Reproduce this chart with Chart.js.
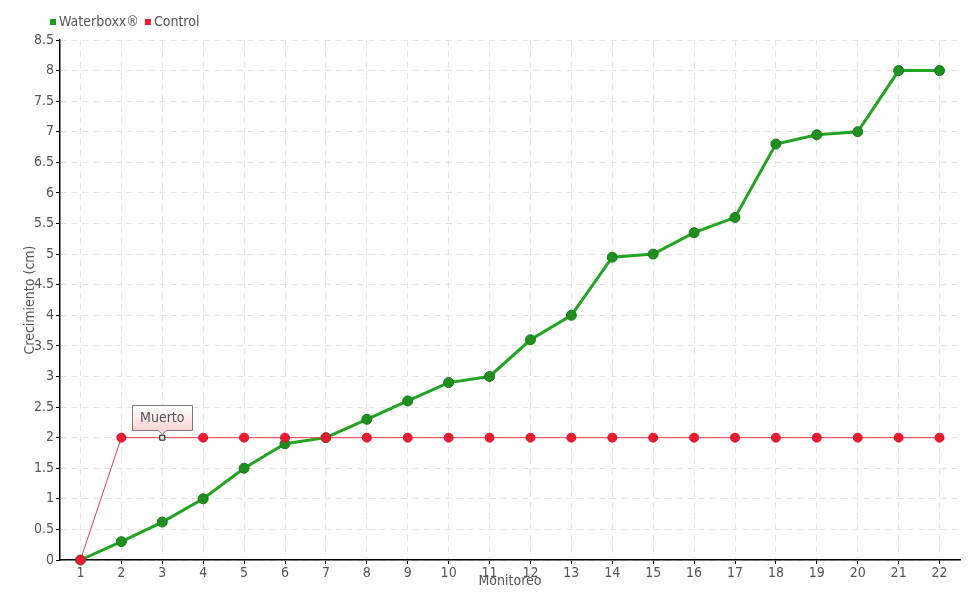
<!DOCTYPE html>
<html>
<head>
<meta charset="utf-8">
<script src="https://cdn.jsdelivr.net/npm/chart.js@4.4.0/dist/chart.umd.min.js"></script>
<style>
  html, body { margin: 0; padding: 0; background: #fff; }
  #wrap { width: 980px; height: 600px; position: relative; }
</style>
</head>
<body>
<div id="wrap"><canvas id="c" width="980" height="600"></canvas></div>
<script>
const categories = ['1','2','3','4','5','6','7','8','9','10','11','12','13','14','15','16','17','18','19','20','21','22'];
const waterboxx = [0, 0.3, 0.62, 1.0, 1.5, 1.9, 2.0, 2.3, 2.6, 2.9, 3.0, 3.6, 4.0, 4.95, 5.0, 5.35, 5.6, 6.8, 6.95, 7.0, 8.0, 8.0];
const control = [0, 2, 2, 2, 2, 2, 2, 2, 2, 2, 2, 2, 2, 2, 2, 2, 2, 2, 2, 2, 2, 2];
const seriesNames = ['Waterboxx\u00AE', 'Control'];
const annotationIndex = 2;
const annotationText = 'Muerto';
const yTitle = 'Crecimiento (cm)';
const xTitle = 'Monitoreo';

const FONT = "'DejaVu Sans Condensed', 'Liberation Sans Narrow', sans-serif";
const TXT = '#555555';
const GREEN = '#22a322';
const RED = '#ee1b30';

const ctlStyles = control.map((v, i) => i === annotationIndex ? 'rect' : 'circle');
const ctlBg = control.map((v, i) => i === annotationIndex ? '#ffffff' : RED);
const ctlBorder = control.map((v, i) => i === annotationIndex ? '#000000' : '#e0102a');
const ctlRadius = control.map((v, i) => i === annotationIndex ? 3.5 : 4.5);

const legendPlugin = {
  id: 'customLegend',
  afterDraw(chart) {
    const ctx = chart.ctx;
    ctx.save();
    ctx.font = '14px ' + FONT;
    ctx.textBaseline = 'middle';
    let x = 50;
    const y = 22;
    chart.data.datasets.forEach(ds => {
      ctx.fillStyle = ds.legendColor;
      ctx.fillRect(x, y - 3, 6, 6);
      ctx.fillStyle = TXT;
      ctx.fillText(ds.label, x + 9, y);
      x += 9 + ctx.measureText(ds.label).width + 6;
    });
    ctx.restore();
  }
};

const annotationPlugin = {
  id: 'muerto',
  afterDatasetsDraw(chart) {
    const ctx = chart.ctx;
    const xs = chart.scales.x, ys = chart.scales.y;
    const px = xs.getPixelForValue(annotationIndex);
    const py = ys.getPixelForValue(control[annotationIndex]);
    const w = 60, h = 25;
    const left = Math.round(px - w / 2) + 0.5;
    const bottom = Math.round(py - 8) + 0.5;
    const top = bottom - h;
    ctx.save();
    const g = ctx.createLinearGradient(0, top, 0, bottom);
    g.addColorStop(0, '#ffffff');
    g.addColorStop(1, '#f9d3d3');
    ctx.beginPath();
    ctx.moveTo(left, top);
    ctx.lineTo(left + w, top);
    ctx.lineTo(left + w, bottom);
    ctx.lineTo(px + 4, bottom);
    ctx.lineTo(px, bottom + 4);
    ctx.lineTo(px - 4, bottom);
    ctx.lineTo(left, bottom);
    ctx.closePath();
    ctx.fillStyle = g;
    ctx.fill();
    ctx.strokeStyle = '#7a7a7a';
    ctx.lineWidth = 1;
    ctx.stroke();
    ctx.fillStyle = TXT;
    ctx.font = '14px ' + FONT;
    ctx.textAlign = 'center';
    ctx.textBaseline = 'middle';
    ctx.fillText(annotationText, px, top + h / 2);
    ctx.restore();
  }
};

new Chart(document.getElementById('c'), {
  type: 'line',
  data: {
    labels: categories,
    datasets: [
      {
        label: seriesNames[0],
        data: waterboxx,
        legendColor: '#1c9c1c',
        borderColor: GREEN,
        borderWidth: 3,
        pointRadius: 5,
        pointHoverRadius: 5,
        pointBackgroundColor: '#1f8f1f',
        pointBorderColor: '#187818',
        pointBorderWidth: 1,
        tension: 0,
        order: 2,
        clip: false
      },
      {
        label: seriesNames[1],
        data: control,
        legendColor: RED,
        borderColor: '#f03a4c',
        borderWidth: 1,
        pointStyle: ctlStyles,
        pointRadius: ctlRadius,
        pointHoverRadius: ctlRadius,
        pointBackgroundColor: ctlBg,
        pointBorderColor: ctlBorder,
        pointBorderWidth: 1,
        tension: 0,
        order: 1,
        clip: false
      }
    ]
  },
  options: {
    responsive: false,
    animation: false,
    events: [],
    layout: { padding: { top: 40, right: 20, left: 0, bottom: 0 } },
    plugins: {
      legend: { display: false },
      tooltip: { enabled: false },
      title: { display: false }
    },
    scales: {
      x: {
        type: 'category',
        offset: true,
        grid: {
          display: true,
          offset: false,
          color: '#e4e4e4',
          lineWidth: 1,
          drawTicks: true,
          tickLength: 4,
          tickColor: '#000000'
        },
        border: { display: true, color: '#000000', width: 1.5, dash: [6, 5] },
        ticks: {
          autoSkip: false,
          maxRotation: 0,
          padding: 1,
          color: TXT,
          font: { family: FONT, size: 14 }
        },
        title: {
          display: true,
          text: xTitle,
          color: TXT,
          font: { family: FONT, size: 14 },
          padding: { top: 0, bottom: 10 }
        },
        afterFit(scale) { scale.height = 40; }
      },
      y: {
        min: 0,
        max: 8.5,
        grid: {
          display: true,
          color: '#e4e4e4',
          lineWidth: 1,
          drawTicks: true,
          tickLength: 4,
          tickColor: '#000000'
        },
        border: { display: true, color: '#000000', width: 1.5, dash: [6, 5] },
        ticks: {
          stepSize: 0.5,
          padding: 2,
          color: TXT,
          font: { family: FONT, size: 14 },
          callback: (v) => String(+Number(v).toFixed(1))
        },
        title: {
          display: true,
          text: yTitle,
          color: TXT,
          font: { family: FONT, size: 14 },
          padding: { top: 22, bottom: 0 }
        },
        afterFit(scale) { scale.width = 60; }
      }
    }
  },
  plugins: [legendPlugin, annotationPlugin]
});
</script>
</body>
</html>
